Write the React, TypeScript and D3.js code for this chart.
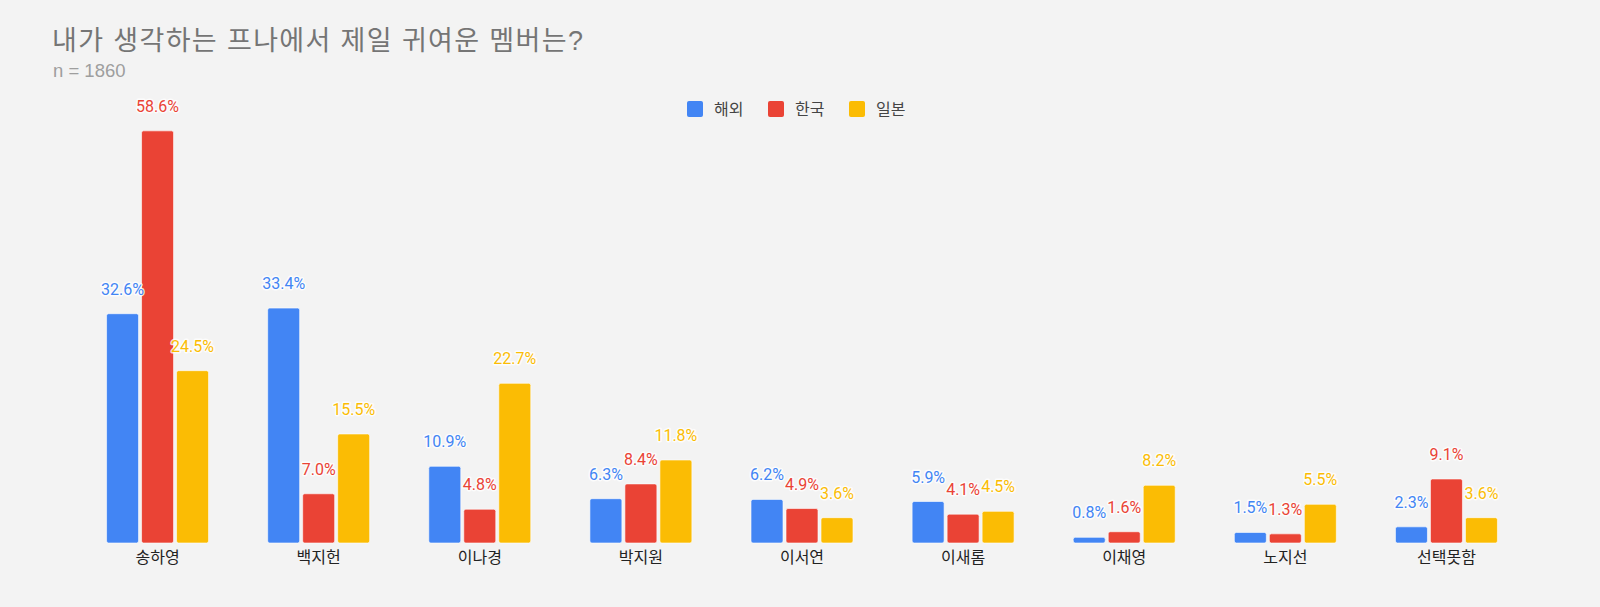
import React from 'react'
import * as d3 from 'd3'

// survey: 내가 생각하는 프나에서 제일 귀여운 멤버는?
const members = ['송하영', '백지헌', '이나경', '박지원', '이서연', '이새롬', '이채영', '노지선', '선택못함']
const seriesNames = ['해외', '한국', '일본']
const overseas = [32.6, 33.4, 10.9, 6.3, 6.2, 5.9, 0.8, 1.5, 2.3]
const korea = [58.6, 7.0, 4.8, 8.4, 4.9, 4.1, 1.6, 1.3, 9.1]
const japan = [24.5, 15.5, 22.7, 11.8, 3.6, 4.5, 8.2, 5.5, 3.6]
const colors = ['#4285F4', '#EA4335', '#FBBC04']

const W = 1600
const H = 607
const FONT = "Roboto, 'Noto Sans CJK KR', sans-serif"
const TITLE_FONT = "'Liberation Sans', Arial, 'Noto Sans CJK KR', sans-serif"

function App() {
  const values = [overseas, korea, japan]

  const x = d3.scaleBand<string>().domain(members).range([77, 1527]).paddingInner(0.367).paddingOuter(0.1835)
  const xs = d3.scaleBand<string>().domain(seriesNames).range([0, x.bandwidth()]).paddingInner(0.086)
  const y = d3.scaleLinear().domain([0, 60]).range([543, 121])

  const fmt = d3.format('.1f')

  return (
    <div style={{position: 'absolute', left: 0, top: 0}}>
      <svg width={W} height={H} style={{display: 'block', fontFamily: FONT}}>
        <rect width={W} height={H} fill="#f3f3f3" />

        {/* title */}
        <text
          x={52}
          y={50}
          fontSize={27}
          fill="#757575"
          fontFamily={TITLE_FONT}
          textLength={531}
          lengthAdjust="spacing">
          내가 생각하는 프나에서 제일 귀여운 멤버는?
        </text>
        <text x={53} y={77} fontSize={18.5} fill="#9e9e9e" fontFamily={TITLE_FONT}>
          n = 1860
        </text>

        {/* legend */}
        <g>
          {seriesNames.map((s, i) => (
            <g key={s} transform={`translate(${687 + i * 81},101)`}>
              <rect width={16} height={16} rx={2} fill={colors[i]} />
              <text x={27} y={13.5} fontSize={16} fill="#444">
                {s}
              </text>
            </g>
          ))}
        </g>

        {/* bars */}
        {members.map((m, ci) => (
          <g key={m} transform={`translate(${x(m)},0)`}>
            {seriesNames.map((s, si) => {
              const v = values[si][ci]
              const bx = xs(s) as number
              const top = y(v)
              return (
                <rect
                  key={s}
                  x={bx}
                  y={top}
                  width={xs.bandwidth()}
                  height={y(0) - top}
                  rx={2}
                  fill={colors[si]}
                  stroke="#ffffff"
                  strokeOpacity={0.6}
                  strokeWidth={1}
                />
              )
            })}
          </g>
        ))}

        {/* annotations */}
        {members.map((m, ci) => (
          <g key={m} transform={`translate(${x(m)},0)`}>
            {seriesNames.map((s, si) => {
              const v = values[si][ci]
              return (
                <text
                  key={s}
                  x={(xs(s) as number) + xs.bandwidth() / 2}
                  y={y(v) - 19}
                  textAnchor="middle"
                  fontSize={16}
                  fill={colors[si]}
                  stroke="#ffffff"
                  strokeWidth={3}
                  strokeOpacity={0.8}
                  strokeLinejoin="round"
                  paintOrder="stroke">
                  {fmt(v)}%
                </text>
              )
            })}
          </g>
        ))}

        {/* category axis */}
        {members.map(m => (
          <text key={m} x={(x(m) as number) + x.bandwidth() / 2} y={563} textAnchor="middle" fontSize={16} fill="#222">
            {m}
          </text>
        ))}
      </svg>
    </div>
  )
}

export default App
